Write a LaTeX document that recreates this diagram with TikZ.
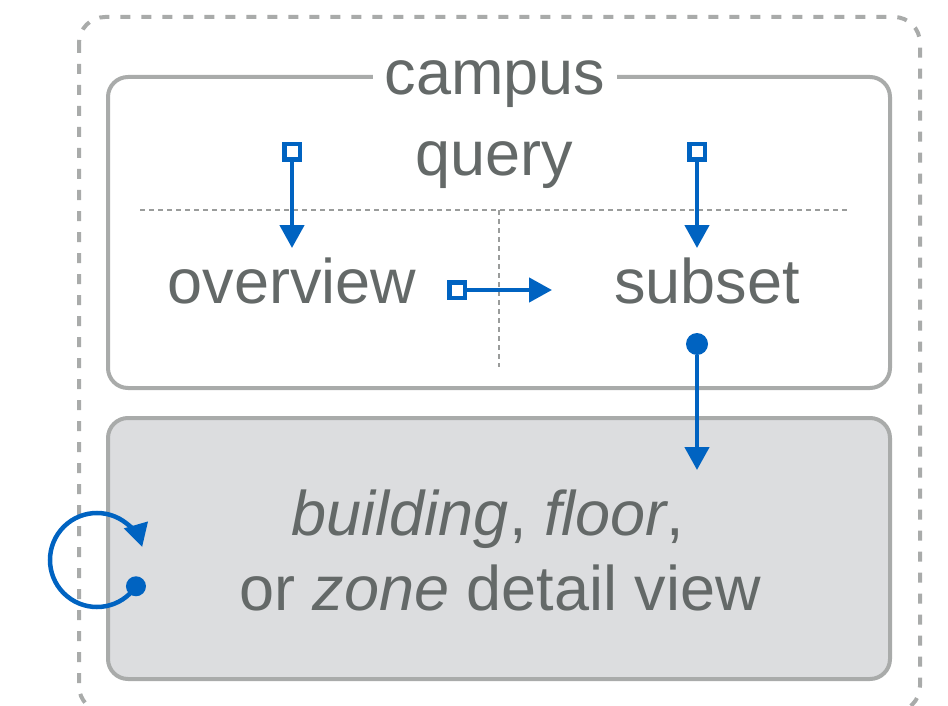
\documentclass[tikz,border=0pt]{standalone}
\usepackage{fontspec}
\setmainfont{Liberation Sans}
\usetikzlibrary{arrows.meta,calc}
\definecolor{txt}{HTML}{646968}
\definecolor{boxline}{HTML}{A9ABAA}
\definecolor{boxfill}{HTML}{DCDDDF}
\definecolor{blu}{HTML}{0063C1}
\definecolor{dotline}{HTML}{9A9C9B}
\tikzset{
  lbl/.style={text=txt, font=\fontsize{31.5}{38}\selectfont, inner sep=0pt, anchor=base},
  panel/.style={draw=boxline, line width=2pt, rounded corners=10pt},
  outerbox/.style={draw=boxline, line width=2pt, dash pattern=on 5pt off 5.5pt, rounded corners=13pt},
  divider/.style={draw=dotline, line width=1pt, dash pattern=on 2.5pt off 2pt},
  flow/.style={draw=blu, line width=2.25pt, -{Triangle[length=11.5pt,width=12pt]}},
  sqmark/.style={draw=blu, fill=white, line width=2.25pt, minimum size=7.75pt, inner sep=0pt, rectangle},
  dotmark/.style={fill=blu, circle, inner sep=0pt, minimum size=#1},
}
\begin{document}
\begin{tikzpicture}[x=0.5pt,y=0.5pt]
\useasboundingbox (0,0) rectangle (948,-706);
\begin{scope}
\clip (0,0) rectangle (948,-706);
\draw[outerbox] (79,-17) rectangle (920,-712);
\end{scope}
% campus panel
\draw[panel, fill=white] (108,-77) rectangle (890,-388);
\node[lbl, fill=white, inner xsep=6pt, inner ysep=4pt] (campus) at (495,-95) {campus};
% detail panel
\draw[panel, fill=boxfill] (108,-418) rectangle (890,-679);
% dividers
\draw[divider] (140,-210) -- (848,-210);
\draw[divider] (499,-210) -- (499,-367);
% labels
\node[lbl] (query) at (494,-176) {query};
\node[lbl] (overview) at (292,-303) {overview};
\node[lbl] (subset) at (707,-303) {subset};
\node[lbl] (detail1) at (488,-535) {\itshape building\upshape, \itshape floor\upshape,};
\node[lbl] (detail2) at (500,-610) {or \itshape zone\upshape{} detail view};
% markers
\node[sqmark] (sqA) at (292,-152) {};
\node[sqmark] (sqB) at (697,-152) {};
\node[sqmark] (sqC) at (457,-290) {};
\node[dotmark=11pt] (dotD) at (697,-344) {};
\coordinate (tipA) at (292,-248);
\coordinate (tipB) at (697,-248);
\coordinate (tipC) at (552,-290);
\coordinate (tipD) at (697,-470);
\draw[flow] (sqA) -- (tipA);
\draw[flow] (sqB) -- (tipB);
\draw[flow] (sqC) -- (tipC);
\draw[flow] (dotD) -- (tipD);
% loop
\coordinate (loopc) at (97,-560);
\node[dotmark=10pt] (dotE) at ($(loopc)+(-34:47)$) {};
\draw[flow] (dotE.center) arc[start angle=-34, end angle=-344, radius=47];
\end{tikzpicture}
\end{document}
